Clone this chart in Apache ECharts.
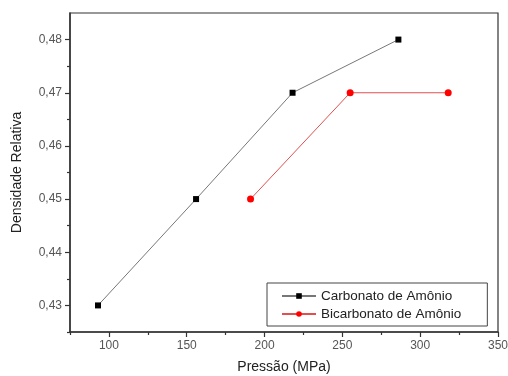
<!DOCTYPE html>
<html>
<head>
<meta charset="utf-8">
<script src="https://cdn.jsdelivr.net/npm/echarts@6/dist/echarts.min.js"></script>
<style>
  html, body { margin: 0; padding: 0; background: #fff; }
  #chart { width: 508px; height: 376px; }
</style>
</head>
<body>
<div id="chart"></div>
<script>
// dados
const carbonatoPressao = [93, 156, 218, 286];
const carbonatoDensidade = [0.43, 0.45, 0.47, 0.48];
const bicarbonatoPressao = [191, 255, 318];
const bicarbonatoDensidade = [0.45, 0.47, 0.47];

const xTicks = [100, 150, 200, 250, 300, 350];
const xMinorTicks = [75, 125, 175, 225, 275, 325];
const yTicks = [0.43, 0.44, 0.45, 0.46, 0.47, 0.48];
const yMinorTicks = [0.425, 0.435, 0.445, 0.455, 0.465, 0.475];

const font = 'Liberation Sans, Arial, sans-serif';
const axisColor = '#333';

const chart = echarts.init(document.getElementById('chart'));

const pares = (xs, ys) => xs.map((x, i) => [x, ys[i]]);

const option = {
  animation: false,
  grid: {
    left: 70, right: 10, top: 13, bottom: 44,
    outerBoundsMode: 'none',
    show: true, borderColor: axisColor, borderWidth: 1.2
  },
  legend: {
    orient: 'vertical',
    left: 267, top: 283,
    padding: [6, 26, 5, 14],
    itemWidth: 34, itemHeight: 7, itemGap: 4,
    borderColor: '#444', borderWidth: 1,
    textStyle: { fontFamily: font, fontSize: 13.5, color: '#222' },
    data: ['Carbonato de Amônio', 'Bicarbonato de Amônio']
  },
  xAxis: [
    {
      type: 'value', min: 75, max: 350,
      name: 'Pressão (MPa)', nameLocation: 'middle', nameGap: 28,
      nameTextStyle: { fontFamily: font, fontSize: 14, color: '#222' },
      axisLine: { lineStyle: { color: axisColor, width: 1.5 } },
      axisTick: { customValues: xTicks, length: 5, lineStyle: { color: axisColor, width: 1.2 } },
      axisLabel: {
        customValues: xTicks, margin: 8,
        fontFamily: font, fontSize: 12, color: '#555'
      },
      splitLine: { show: false }
    },
    {
      type: 'value', min: 75, max: 350, position: 'bottom',
      axisLine: { show: false },
      axisTick: { customValues: xMinorTicks, length: 3, lineStyle: { color: axisColor, width: 1.2 } },
      axisLabel: { show: false },
      splitLine: { show: false }
    }
  ],
  yAxis: [
    {
      type: 'value', min: 0.425, max: 0.485,
      name: 'Densidade Relativa', nameLocation: 'middle', nameGap: 46,
      nameTextStyle: { fontFamily: font, fontSize: 14, color: '#222' },
      axisLine: { show: true, lineStyle: { color: axisColor, width: 1.5 } },
      axisTick: { show: true, customValues: yTicks, length: 5, lineStyle: { color: axisColor, width: 1.2 } },
      axisLabel: {
        customValues: yTicks, margin: 8,
        fontFamily: font, fontSize: 12, color: '#555',
        formatter: v => v.toFixed(2).replace('.', ',')
      },
      splitLine: { show: false }
    },
    {
      type: 'value', min: 0.425, max: 0.485, position: 'left',
      axisLine: { show: false },
      axisTick: { show: true, customValues: yMinorTicks, length: 3, lineStyle: { color: axisColor, width: 1.2 } },
      axisLabel: { show: false },
      splitLine: { show: false }
    }
  ],
  series: [
    {
      name: 'Carbonato de Amônio',
      type: 'line',
      data: pares(carbonatoPressao, carbonatoDensidade),
      symbol: 'rect', symbolSize: 6,
      itemStyle: { color: '#000' },
      lineStyle: { color: '#777', width: 1 }
    },
    {
      name: 'Bicarbonato de Amônio',
      type: 'line',
      data: pares(bicarbonatoPressao, bicarbonatoDensidade),
      symbol: 'circle', symbolSize: 7,
      itemStyle: { color: '#f00' },
      lineStyle: { color: '#e05050', width: 1 }
    }
  ]
};

chart.setOption(option);
</script>
</body>
</html>
